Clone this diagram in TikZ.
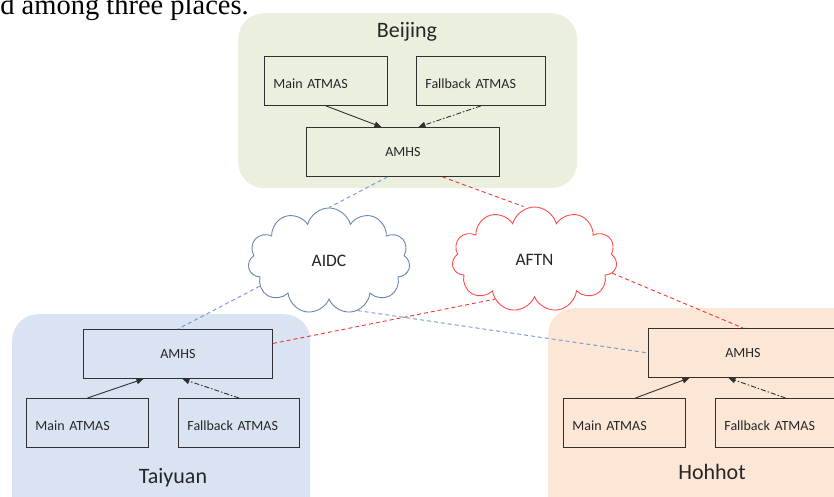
\documentclass[tikz,border=0pt]{standalone}
\usepackage{fontspec}
\setmainfont{Carlito}
\newfontfamily\timesfont{Liberation Serif}
\usetikzlibrary{arrows.meta,shapes.symbols}
\definecolor{bjfill}{HTML}{EBF0DE}
\definecolor{tyfill}{HTML}{DAE3F2}
\definecolor{hhfill}{HTML}{FCE6D6}
\definecolor{boxline}{HTML}{303030}
\definecolor{aidccol}{HTML}{6A86AC}
\definecolor{aftncol}{HTML}{FF4B4B}
\definecolor{bluedashcol}{HTML}{7094CC}
\definecolor{reddashcol}{HTML}{F03535}
\begin{document}
\begin{tikzpicture}[x=1pt,y=-1pt,
  region/.style={rounded corners=26pt, draw=none, inner sep=0pt, anchor=north west},
  regionlabel/.style={font=\fontsize{22}{24}\selectfont, text=black!85, inner sep=0pt},
  box/.style={draw=boxline, line width=0.9pt, inner sep=0pt, font=\fontsize{14}{16}\selectfont, text=black!85, anchor=north west},
  amhsbox/.style={box, minimum height=49pt},
  atmasbox/.style={box, inner xsep=9pt, inner ysep=0pt, text width=#1, align=left, minimum height=49pt, text height=15pt, text depth=0pt},
  netcloud/.style={cloud, cloud puffs=11, aspect=1.53, fill=white, line width=0.9pt, minimum width=162pt, minimum height=106pt, font=\fontsize{17.5}{19}\selectfont, text=black!85},
  bluedash/.style={draw=bluedashcol, line width=0.9pt, dash pattern=on 4pt off 3pt},
  reddash/.style={draw=reddashcol, line width=0.9pt, dash pattern=on 4pt off 3pt},
  mainarrow/.style={draw=boxline, line width=0.9pt, -{Triangle[length=7pt,width=6pt]}},
  fbarrow/.style={mainarrow, dash pattern=on 5pt off 2pt on 1.5pt off 2pt}
]
\useasboundingbox (0,0) rectangle (834,497);
\clip (0,0) rectangle (834,497);

% top cut text
\node[anchor=base east, font=\timesfont\fontsize{28.5}{30}\selectfont, inner sep=0pt] (toptxt) at (249,15) {d among three places.};

% regions
\node[region, fill=bjfill, minimum width=339pt, minimum height=175pt] (bjreg) at (238,13) {};
\node[region, fill=tyfill, minimum width=298pt, minimum height=250pt] (tyreg) at (12,314) {};
\node[region, fill=hhfill, minimum width=350pt, minimum height=250pt] (hhreg) at (548,308) {};

\node[regionlabel] (bjlab) at (407,32) {Beijing};
\node[regionlabel] (tylab) at (173,478) {Taiyuan};
\node[regionlabel] (hhlab) at (712,472) {Hohhot};

% Beijing
\node[atmasbox=105pt] (bjmain) at (264,56) {Main ATMAS};
\node[atmasbox=111pt] (bjfb) at (416,56) {Fallback ATMAS};
\node[amhsbox, minimum width=193pt] (bjamhs) at (306,127) {AMHS};

% Taiyuan
\node[amhsbox, minimum width=189pt] (tyamhs) at (83,329) {AMHS};
\node[atmasbox=104pt] (tymain) at (26,398) {Main ATMAS};
\node[atmasbox=103pt] (tyfb) at (178,398) {Fallback ATMAS};

% Hohhot
\node[amhsbox, minimum width=189pt] (hhamhs) at (648,328) {AMHS};
\node[atmasbox=104pt] (hhmain) at (563,398) {Main ATMAS};
\node[atmasbox=103pt] (hhfb) at (715,398) {Fallback ATMAS};

% clouds
\node[netcloud, draw=aidccol] (aidc) at (329,261) {AIDC};
\node[netcloud, draw=aftncol, minimum width=165pt, minimum height=105pt] (aftn) at (534.5,259.5) {AFTN};

% internal arrows
\draw[mainarrow] (bjmain.south) -- ([xshift=-21.5pt]bjamhs.north);
\draw[fbarrow] (bjfb.south) -- ([xshift=15.5pt]bjamhs.north);
\draw[mainarrow] (tymain.north) -- ([xshift=-34.5pt]tyamhs.south);
\draw[fbarrow] (tyfb.north) -- ([xshift=4.5pt]tyamhs.south);
\draw[mainarrow] ([xshift=11pt]hhmain.north) -- ([xshift=-53.5pt]hhamhs.south);
\draw[fbarrow] ([xshift=9.5pt]hhfb.north) -- ([xshift=-14.5pt]hhamhs.south);

% network links
\draw[bluedash] ([xshift=-15.5pt]bjamhs.south) -- (aidc.north);
\draw[reddash] ([xshift=39.5pt]bjamhs.south) -- ([xshift=-11pt]aftn.north);
\draw[bluedash] (aidc.200) -- (tyamhs.north);
\draw[reddash] ([yshift=10.5pt]tyamhs.east) -- (aftn.225);
\draw[bluedash] (aidc.300) -- (hhamhs.west);
\draw[reddash] (aftn.350) -- (hhamhs.north);
\end{tikzpicture}
\end{document}
